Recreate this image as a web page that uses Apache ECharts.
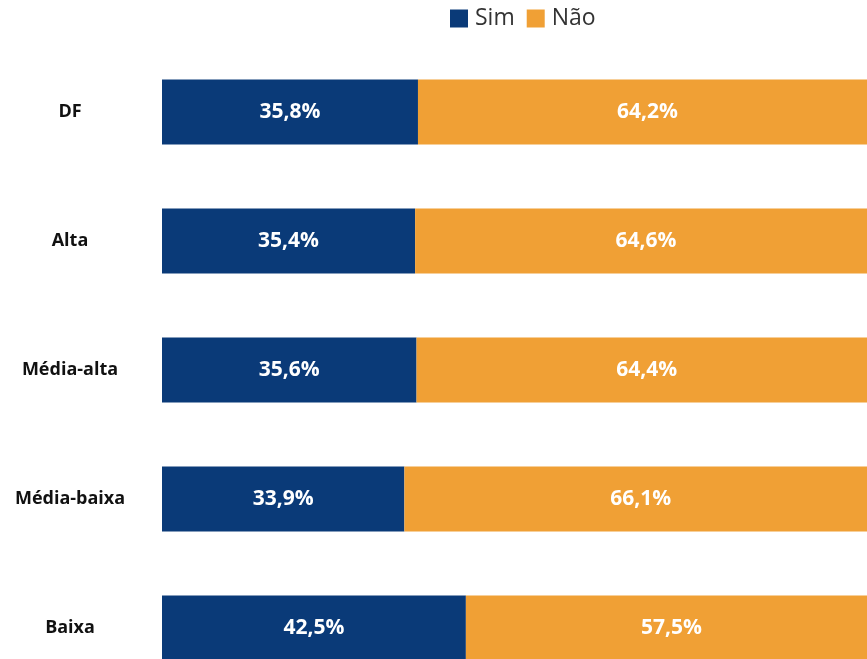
<!DOCTYPE html>
<html><head><meta charset="utf-8">
<script src="https://cdn.jsdelivr.net/npm/echarts@6/dist/echarts.min.js"></script>
<style>html,body{margin:0;padding:0;background:#fff}#c{width:867px;height:659px}</style>
</head><body><div id="c"></div>
<script>
const categories = ['DF', 'Alta', 'Média-alta', 'Média-baixa', 'Baixa'];
const sim = [35.8, 35.4, 35.6, 33.9, 42.5];
const nao = [64.2, 64.6, 64.4, 66.1, 57.5];
const seriesNames = ['Sim', 'Não'];
const fmt = p => p.value.toFixed(1).replace('.', ',') + '%';
const chart = echarts.init(document.getElementById('c'));
const labelStyle = {show: true, position: 'inside', color: '#fff', fontSize: 21, fontWeight: 'bold', fontFamily: 'Open Sans', formatter: fmt};
chart.setOption({
  animation: false,
  legend: {top: 2, left: 445, itemWidth: 18, itemHeight: 18, itemGap: 12,
    textStyle: {fontSize: 23, color: '#333', fontFamily: 'Open Sans', padding: [0, 0, 0, 2]}, icon: 'rect', data: seriesNames},
  grid: {left: 162, width: 715, top: 47.5, height: 645, containLabel: false, outerBoundsMode: 'none'},
  xAxis: {type: 'value', min: 0, max: 100, show: false},
  yAxis: {type: 'category', data: categories, inverse: true,
    axisLine: {show: false}, axisTick: {show: false},
    axisLabel: {margin: 92, align: 'center', fontSize: 18, fontWeight: 'bold', color: '#111', fontFamily: 'Open Sans'}},
  series: [
    {name: seriesNames[0], type: 'bar', stack: 't', data: sim, barWidth: 65, itemStyle: {color: '#0a3a78'}, label: labelStyle},
    {name: seriesNames[1], type: 'bar', stack: 't', data: nao, barWidth: 65, itemStyle: {color: '#f0a035'}, label: labelStyle}
  ]
});
</script></body></html>
